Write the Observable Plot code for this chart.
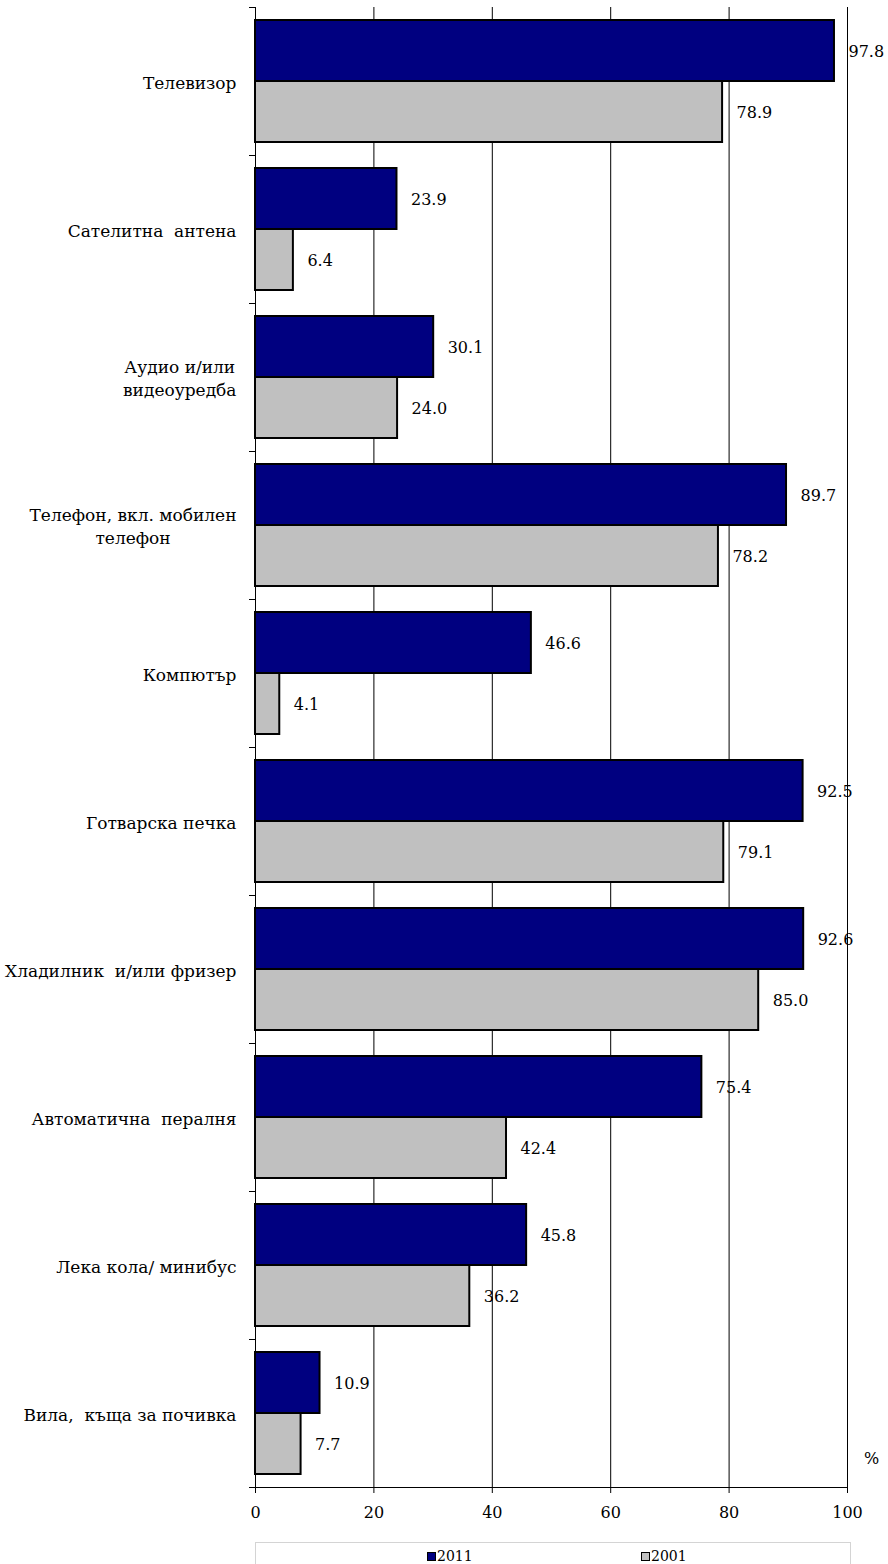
<!DOCTYPE html>
<html>
<head>
<meta charset="utf-8">
<script src="https://cdn.jsdelivr.net/npm/d3@7"></script>
<script src="https://cdn.jsdelivr.net/npm/@observablehq/plot@0.6"></script>
<style>
  html, body { margin: 0; padding: 0; background: #fff; }
  #chart { width: 888px; }
  .legend {
    position: absolute; left: 255px; top: 1542px; width: 596px; height: 30px;
    border: 1px solid #d4d4d4; box-sizing: border-box;
    font-family: "DejaVu Serif", serif; font-size: 14px; color: #000;
  }
  .legend .item { position: absolute; top: 6px; display: flex; align-items: center; line-height: 15px; }
  .legend .sw { width: 7px; height: 7px; border: 1.5px solid #000; margin-right: 1px; }
</style>
</head>
<body>
<div id="chart"></div>
<script>
const categories = [
  "Телевизор",
  "Сателитна  антена",
  "Аудио и/или\nвидеоуредба",
  "Телефон, вкл. мобилен\nтелефон",
  "Компютър",
  "Готварска печка",
  "Хладилник  и/или фризер",
  "Автоматична  пералня",
  "Лека кола/ минибус",
  "Вила,  къща за почивка"
];
const values2011 = [97.8, 23.9, 30.1, 89.7, 46.6, 92.5, 92.6, 75.4, 45.8, 10.9];
const values2001 = [78.9, 6.4, 24.0, 78.2, 4.1, 79.1, 85.0, 42.4, 36.2, 7.7];
const seriesNames = ["2011", "2001"];
const seriesColors = ["#000080", "#c0c0c0"];
const xTicks = [0, 20, 40, 60, 80, 100];
const unitLabel = "%";

const rows = categories.map((c, i) => ({category: c, v2011: values2011[i], v2001: values2001[i]}));
const fmt = d3.format(".1f");
const font = "DejaVu Serif";

const chart = Plot.plot({
  width: 888,
  height: 1530,
  marginLeft: 255,
  marginRight: 41,
  marginTop: 7,
  marginBottom: 43,
  style: {fontSize: "16px", fontFamily: font, color: "#000", background: "#fff", overflow: "visible"},
  x: {domain: [0, 100]},
  y: {domain: categories, padding: 0},
  marks: [
    Plot.gridX(xTicks.filter(d => d > 0), {stroke: "#000", strokeOpacity: 1, strokeWidth: 1}),
    Plot.barX(rows, {y: "category", x: "v2011", fill: seriesColors[0], stroke: "#000", strokeWidth: 2, insetTop: 13, insetBottom: 74}),
    Plot.barX(rows, {y: "category", x: "v2001", fill: seriesColors[1], stroke: "#000", strokeWidth: 2, insetTop: 74, insetBottom: 13}),
    Plot.text(rows, {y: "category", x: "v2011", text: d => fmt(d.v2011), dx: 14, dy: -30, textAnchor: "start", fontSize: 16, fontFamily: font, fill: "#000"}),
    Plot.text(rows, {y: "category", x: "v2001", text: d => fmt(d.v2001), dx: 14, dy: 31, textAnchor: "start", fontSize: 16, fontFamily: font, fill: "#000"}),
    Plot.ruleX([0], {stroke: "#000", strokeWidth: 1}),
    Plot.frame({anchor: "bottom", stroke: "#000", strokeWidth: 1}),
    Plot.axisY({tickSize: 0, tickPadding: 19, fontSize: 17, fontFamily: font, lineHeight: 1.35, label: null}),
    Plot.axisY({tickSize: 6, tickFormat: () => "", dy: -74, label: null}),
    Plot.axisY({tickSize: 6, tickFormat: () => "", dy: 74, label: null}),
    Plot.axisX({ticks: xTicks, tickSize: 6, tickPadding: 13, tickFormat: d => String(d), fontSize: 16, fontFamily: font, label: null}),
    Plot.text([unitLabel], {frameAnchor: "bottom-right", dx: 24, dy: -24, textAnchor: "middle", fontSize: 16, fontFamily: font, fill: "#000"})
  ]
});
document.getElementById("chart").appendChild(chart);

// center the lines of multi-line category labels on each other (right edge kept)
chart.querySelectorAll('[aria-label="y-axis tick label"] text').forEach(t => {
  const spans = t.querySelectorAll("tspan");
  if (spans.length < 2) return;
  const w = Math.max(...Array.from(spans, s => s.getComputedTextLength()));
  t.setAttribute("text-anchor", "middle");
  spans.forEach(s => s.setAttribute("x", String(-w / 2)));
});

const legend = document.createElement("div");
legend.className = "legend";
const legendX = [171, 385];
seriesNames.forEach((name, i) => {
  const item = document.createElement("div");
  item.className = "item";
  item.style.left = legendX[i] + "px";
  const sw = document.createElement("span");
  sw.className = "sw";
  sw.style.background = seriesColors[i];
  const t = document.createElement("span");
  t.textContent = name;
  item.appendChild(sw);
  item.appendChild(t);
  legend.appendChild(item);
});
document.body.appendChild(legend);
</script>
</body>
</html>
